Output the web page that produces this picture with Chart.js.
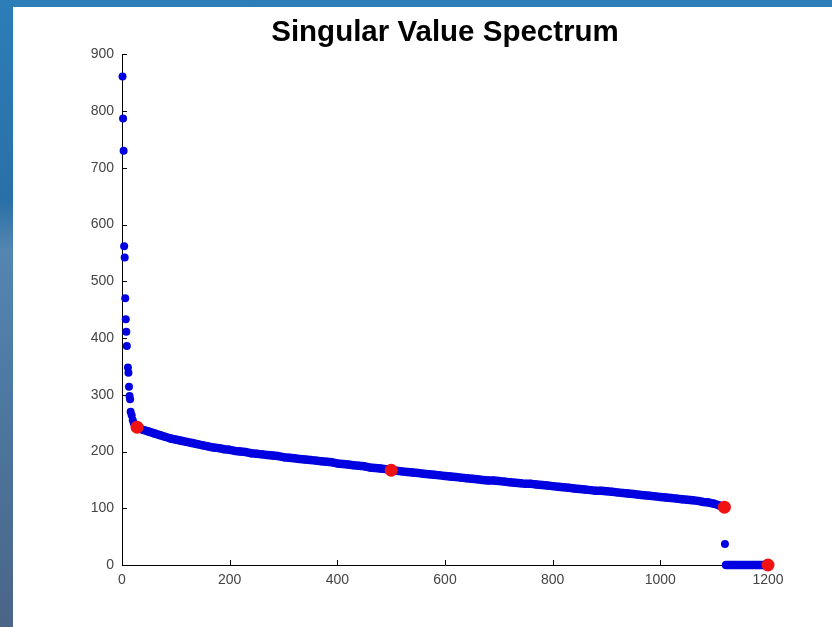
<!DOCTYPE html>
<html>
<head>
<meta charset="utf-8">
<title>Singular Value Spectrum</title>
<script src="https://cdn.jsdelivr.net/npm/chart.js@4.4.1/dist/chart.umd.min.js"></script>
<style>
    html, body {
        margin: 0;
        padding: 0;
        width: 832px;
        height: 627px;
        overflow: hidden;
    }
    body {
        position: relative;
        background: linear-gradient(to bottom, #2c7db8 0%, #2a70a8 32%, #5586b0 40%, #4d7aa3 60%, #4a6588 100%);
    }
    .sheet {
        position: absolute;
        left: 13px;
        top: 7px;
        right: 0;
        bottom: 0;
        background: #ffffff;
    }
    #spectrum {
        position: absolute;
        left: 0;
        top: 0;
    }
</style>
</head>
<body>
<div class="sheet"></div>
<canvas id="spectrum" width="832" height="627"></canvas>
<script>
// Leading singular values (steep drop)
const headIndex = [1, 2, 3, 4, 5, 6, 7, 8, 9, 11, 12, 13, 14, 15, 16, 18, 20, 22, 24, 26];
const headValues = [861, 787, 730, 562, 542, 470, 433, 411, 386, 348, 339, 314, 298, 292, 270, 264, 255, 250, 247, 244];

// Bulk of the spectrum, sampled every 10th index from 30 to 1110
const bodyStart = 30;
const bodyStep = 10;
const bodyValues = [
    241, 238, 235, 232, 229, 226, 223, 221, 219, 217,
    215, 213, 211, 209, 207, 206, 204, 203, 201, 200,
    199, 197, 196, 195, 194, 193, 192, 190, 189, 188,
    187, 186, 185, 184, 183, 182, 181, 179, 178, 177,
    176, 175, 174, 172, 171, 170, 169, 167, 166, 165,
    164, 163, 162, 161, 160, 159, 158, 157, 156, 155,
    154, 153, 152, 151, 150, 149, 149, 148, 147, 146,
    145, 144, 143, 143, 142, 141, 140, 139, 138, 137,
    136, 135, 134, 133, 132, 131, 131, 130, 129, 128,
    127, 126, 125, 124, 123, 122, 121, 120, 119, 118,
    117, 116, 115, 114, 113, 111, 110, 108, 105
];

// Last non-zero value and the null space
const gapIndex = [1120];
const gapValues = [37];
const tailIndex = [1122, 1126, 1130, 1134, 1138, 1142, 1146, 1150, 1154, 1158,
                   1162, 1166, 1170, 1174, 1178, 1182, 1186, 1190, 1194, 1198];
const tailValues = [0, 0, 0, 0, 0, 0, 0, 0, 0, 0, 0, 0, 0, 0, 0, 0, 0, 0, 0, 0];

// Highlighted singular values
const markIndex = [28, 500, 1119, 1200];
const markValues = [243, 167, 102, 0];

const xTicks = [0, 200, 400, 600, 800, 1000, 1200];
const yTicks = [0, 100, 200, 300, 400, 500, 600, 700, 800, 900];

const BLUE = '#0000e0';
const RED = '#f01212';

function toPoints(xs, ys) {
    return ys.map((y, i) => ({ x: xs[i], y: y }));
}

const bodyIndex = bodyValues.map((v, i) => bodyStart + i * bodyStep);

// dots only
function dotSet(label, points) {
    return {
        label: label,
        data: points,
        backgroundColor: BLUE,
        borderWidth: 0,
        pointRadius: 4,
        order: 1,
        clip: false
    };
}

// densely packed dots merge into a solid band
function bandSet(label, points) {
    return {
        label: label,
        data: points,
        showLine: true,
        borderColor: BLUE,
        borderWidth: 8.5,
        borderCapStyle: 'round',
        borderJoinStyle: 'round',
        backgroundColor: BLUE,
        pointBorderWidth: 0,
        pointRadius: 4,
        tension: 0,
        order: 1,
        clip: false
    };
}

// Matlab-style inward tick marks on both axes, under the markers
const inwardTicks = {
    id: 'inwardTicks',
    beforeDatasetsDraw(chart) {
        const ctx = chart.ctx;
        const area = chart.chartArea;
        const xs = chart.scales.x;
        const ys = chart.scales.y;
        ctx.save();
        ctx.strokeStyle = '#000';
        ctx.lineWidth = 1;
        ctx.beginPath();
        xTicks.forEach(t => {
            const px = Math.round(xs.getPixelForValue(t)) + 0.5;
            ctx.moveTo(px, area.bottom);
            ctx.lineTo(px, area.bottom - 5);
        });
        yTicks.forEach(t => {
            const py = Math.round(ys.getPixelForValue(t)) + 0.5;
            ctx.moveTo(area.left, py);
            ctx.lineTo(area.left + 5, py);
        });
        ctx.stroke();
        ctx.restore();
    }
};

const tickFont = { family: "'Liberation Sans', Arial, sans-serif", size: 14 };

new Chart(document.getElementById('spectrum').getContext('2d'), {
    type: 'scatter',
    data: {
        datasets: [
            {
                label: 'marked',
                data: toPoints(markIndex, markValues),
                backgroundColor: RED,
                borderWidth: 0,
                pointRadius: 6.5,
                order: 0,
                clip: false
            },
            dotSet('head', toPoints(headIndex, headValues)),
            bandSet('body', toPoints(bodyIndex, bodyValues)),
            dotSet('gap', toPoints(gapIndex, gapValues)),
            bandSet('tail', toPoints(tailIndex, tailValues))
        ]
    },
    options: {
        responsive: false,
        animation: false,
        layout: {
            padding: { left: 0, right: 64, top: 0, bottom: 0 }
        },
        plugins: {
            legend: { display: false },
            tooltip: { enabled: false },
            title: {
                display: true,
                text: 'Singular Value Spectrum',
                fullSize: false,
                color: '#000',
                font: { family: "'Liberation Sans', Arial, sans-serif", size: 29.5, weight: 'bold' },
                padding: { top: 15, bottom: 4 }
            }
        },
        scales: {
            x: {
                type: 'linear',
                min: 0,
                max: 1200,
                grid: { display: false, drawTicks: false },
                border: { display: true, color: '#000', width: 1 },
                ticks: {
                    stepSize: 200,
                    color: '#444',
                    font: tickFont,
                    padding: 7,
                    maxRotation: 0,
                    callback: v => String(v)
                },
                afterFit(scale) { scale.height = 62; }
            },
            y: {
                type: 'linear',
                min: 0,
                max: 900,
                grid: { display: false, drawTicks: false },
                border: { display: true, color: '#000', width: 1 },
                ticks: {
                    stepSize: 100,
                    color: '#444',
                    font: tickFont,
                    padding: 8,
                    callback: v => String(v)
                },
                afterFit(scale) { scale.width = 122; }
            }
        }
    },
    plugins: [inwardTicks]
});
</script>
</body>
</html>
